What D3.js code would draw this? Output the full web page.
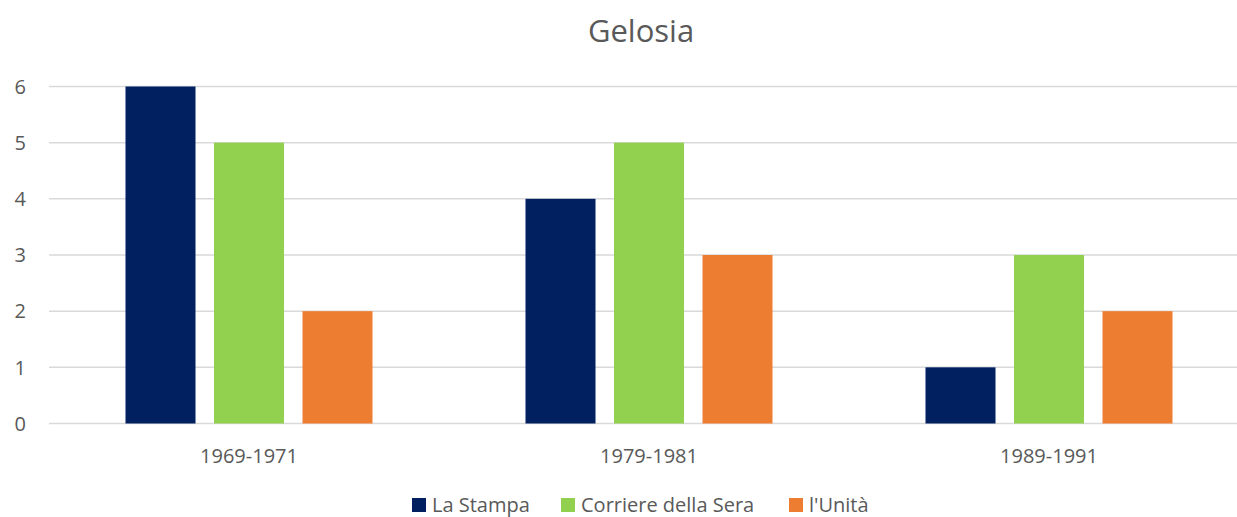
<!DOCTYPE html>
<html>
<head>
<meta charset="utf-8">
<script src="https://cdn.jsdelivr.net/npm/d3@7"></script>
<style>
html,body{margin:0;padding:0;background:#fff;}
svg{display:block;font-family:"Open Sans",sans-serif;}
</style>
</head>
<body>
<svg id="chart" width="1237" height="517"></svg>
<script>
const title = "Gelosia";
const categories = ["1969-1971", "1979-1981", "1989-1991"];
const seriesNames = ["La Stampa", "Corriere della Sera", "l'Unità"];
const laStampa = [6, 4, 1];
const corriere = [5, 5, 3];
const unita = [2, 3, 2];
const yTicks = [0, 1, 2, 3, 4, 5, 6];
const colors = ["#002060", "#92D050", "#ED7D31"];

const seriesValues = [laStampa, corriere, unita];
const svg = d3.select("#chart");
const textColor = "#595959";

const x0 = d3.scaleBand().domain(categories).range([49, 1249]).paddingInner(0).paddingOuter(0);
const groupPad = 76.5;
const x1 = d3.scaleBand().domain(seriesNames)
  .range([groupPad, x0.bandwidth() - groupPad])
  .paddingInner(0.209).paddingOuter(0);
const y = d3.scaleLinear().domain([0, 6]).range([423.5, 86.5]);

// gridlines
svg.append("g").selectAll("line").data(yTicks).join("line")
  .attr("x1", 49).attr("x2", 1237)
  .attr("y1", d => y(d)).attr("y2", d => y(d))
  .attr("stroke", "#D9D9D9").attr("stroke-width", 1.5);

// y labels
svg.append("g").selectAll("text").data(yTicks).join("text")
  .attr("x", 26).attr("y", d => y(d)).attr("dy", "0.36em")
  .attr("text-anchor", "end").attr("font-size", 20).attr("fill", textColor)
  .text(d => d);

// bars
const groups = svg.append("g").selectAll("g").data(categories).join("g")
  .attr("transform", c => `translate(${x0(c)},0)`);
groups.selectAll("rect").data((c, ci) => seriesNames.map((s, si) => ({s, si, v: seriesValues[si][ci]})))
  .join("rect")
  .attr("x", d => x1(d.s)).attr("width", x1.bandwidth())
  .attr("y", d => y(d.v)).attr("height", d => y(0) - y(d.v))
  .attr("fill", d => colors[d.si]);

// x labels
svg.append("g").selectAll("text").data(categories).join("text")
  .attr("x", c => x0(c) + x0.bandwidth() / 2).attr("y", 463)
  .attr("text-anchor", "middle").attr("font-size", 20).attr("fill", textColor)
  .text(c => c);

// title
svg.append("text").attr("x", 641).attr("y", 42).attr("text-anchor", "middle")
  .attr("font-size", 31).attr("fill", textColor).text(title);

// legend
const legendX = [412, 561, 789];
const lg = svg.append("g").selectAll("g").data(seriesNames).join("g")
  .attr("transform", (d, i) => `translate(${legendX[i]},0)`);
lg.append("rect").attr("x", 0).attr("y", 498).attr("width", 14).attr("height", 14)
  .attr("fill", (d, i) => colors[i]);
lg.append("text").attr("x", 20).attr("y", 512).attr("font-size", 20).attr("fill", textColor)
  .text(d => d);
</script>
</body>
</html>
